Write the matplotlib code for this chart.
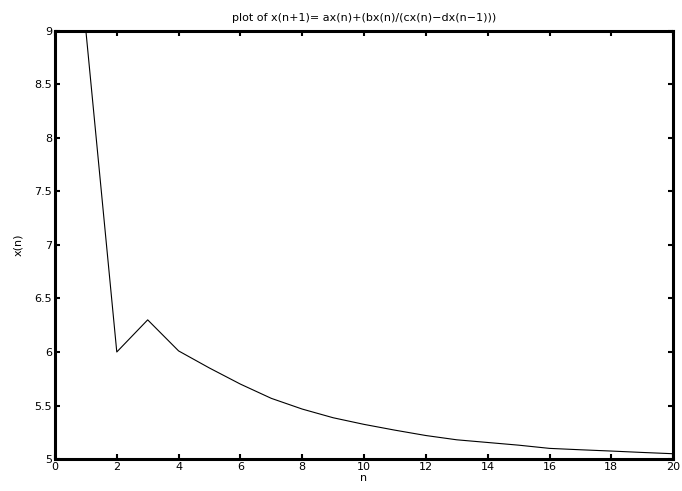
import numpy as np
import matplotlib
matplotlib.use('Agg')
import matplotlib.pyplot as plt

plt.rcParams['font.family'] = ['DejaVu Sans']

# values
n = [1, 2, 3, 4, 5, 6, 7, 8, 9, 10, 11, 12, 13, 14, 15, 16, 17, 18, 19, 20]
xn = [9.0, 6.0, 6.3, 6.01, 5.85, 5.70, 5.567, 5.467, 5.386, 5.324,
      5.27, 5.22, 5.18, 5.155, 5.13, 5.10, 5.087, 5.075, 5.062, 5.05]

xticks = np.arange(0, 21, 2)
yticks = [5, 5.5, 6, 6.5, 7, 7.5, 8, 8.5, 9]
yticklabels = ['5', '5.5', '6', '6.5', '7', '7.5', '8', '8.5', '9']

fig = plt.figure(figsize=(6.82, 4.91), dpi=100)
ax = fig.add_axes([0.0806, 0.065, 0.9064, 0.8725])

ax.plot(n, xn, color='black', linewidth=0.8)

ax.set_xlim(0, 20)
ax.set_ylim(5, 9)
ax.set_xticks(xticks)
ax.set_yticks(yticks)
ax.set_yticklabels(yticklabels)
ax.tick_params(direction='in', length=3.5, width=1.5, labelsize=8,
               top=True, right=True, pad=2)
for s in ax.spines.values():
    s.set_linewidth(2.2)

ax.set_xlabel('n', fontsize=8, labelpad=1)
ax.set_ylabel('x(n)', fontsize=8, labelpad=8)
ax.set_title('plot of x(n+1)= ax(n)+(bx(n)/(cx(n)\u2212dx(n\u22121)))', fontsize=8, pad=7)

fig.savefig('out.png', dpi=100)
